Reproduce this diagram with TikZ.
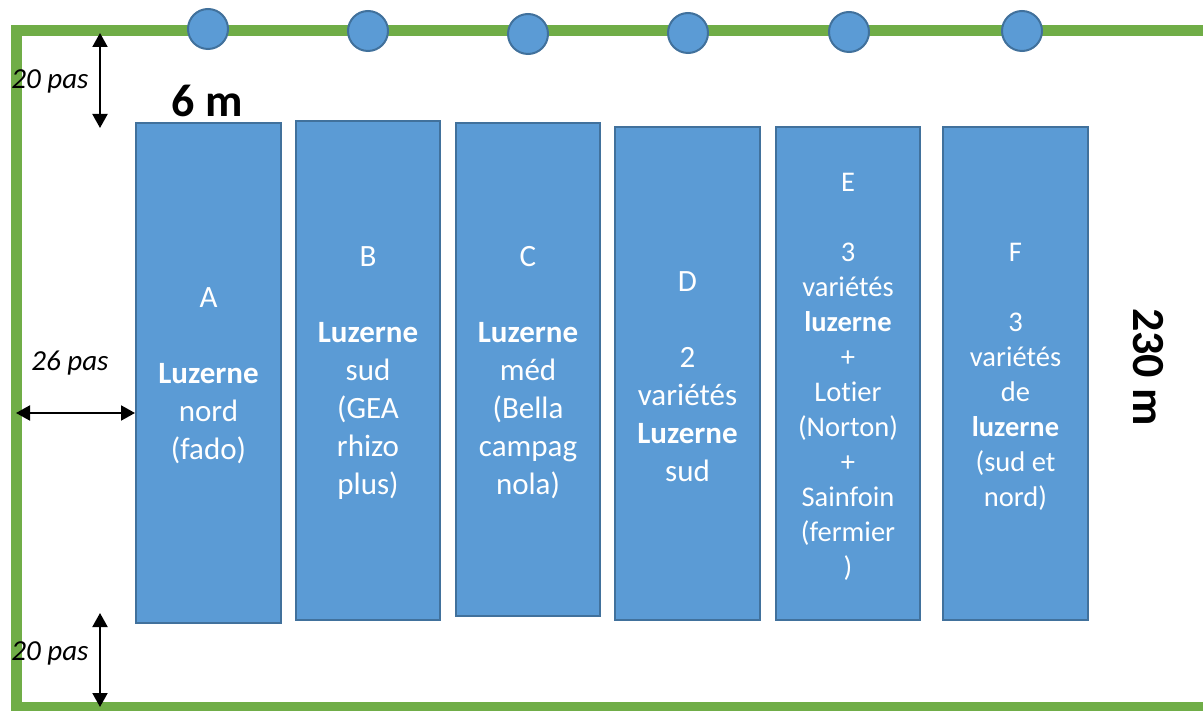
\documentclass[tikz,border=0pt]{standalone}
\usepackage{fontspec}
\setmainfont{Carlito}[RawFeature=-liga]
\usetikzlibrary{arrows.meta}
\definecolor{fieldgreen}{HTML}{70AD47}
\definecolor{plotfill}{HTML}{5B9BD5}
\definecolor{plotline}{HTML}{41719C}
\tikzset{
  plot/.style={draw=plotline, fill=plotfill, line width=2pt, minimum width=145pt, inner sep=0pt},
  plottext/.style={text=white, align=center, inner sep=0pt, yshift=-3pt},
  bigtxt/.style={font=\fontsize{31}{38}\selectfont},
  smalltxt/.style={font=\fontsize{28.5}{35}\selectfont},
  tree/.style={circle, draw=plotline, fill=plotfill, line width=2pt, minimum size=40pt, inner sep=0pt},
  dimarrow/.style={line width=2pt, {Triangle[width=15pt,length=14pt]}-{Triangle[width=15pt,length=14pt]}},
  dimlabel/.style={font=\fontsize{29}{32}\selectfont\itshape, inner sep=0pt},
  bigdim/.style={font=\fontsize{46}{50}\selectfont\bfseries, inner sep=0pt}
}
\begin{document}
\begin{tikzpicture}[x=1pt,y=-1pt]
\useasboundingbox (0,0) rectangle (1203,711);
% field border
\draw[fieldgreen, line width=11pt, line join=miter] (1210,31) -- (16,31) -- (16,707) -- (1210,707);
% trees
\foreach \n/\x/\y in {t1/208/29, t2/368/31, t3/528/34, t4/688/33, t5/849/32, t6/1022/31}
  \node[tree] (\n) at (\x,\y) {};
% plots
\node[plot, minimum height=500pt] (A) at (208.5,373) {};
\node[plot, minimum width=144pt, minimum height=499pt] (B) at (368,370.5) {};
\node[plot, minimum width=144pt, minimum height=493pt] (C) at (528,369.5) {};
\node[plot, minimum height=493pt] (D) at (687.5,373.5) {};
\node[plot, minimum width=144pt, minimum height=493pt] (E) at (848,373.5) {};
\node[plot, minimum height=493pt] (F) at (1015.5,373.5) {};
\node[plottext, bigtxt] (At) at (A.center) {A\\[38pt]\textbf{Luzerne}\\nord\\(fado)};
\node[plottext, bigtxt] (Bt) at (B.center) {B\\[38pt]\textbf{Luzerne}\\sud\\(GEA\\rhizo\\plus)};
\node[plottext, bigtxt] (Ct) at (C.center) {C\\[38pt]\textbf{Luzerne}\\méd\\(Bella\\campag\\nola)};
\node[plottext, bigtxt] (Dt) at (D.center) {D\\[38pt]2\\variétés\\\textbf{Luzerne}\\sud};
\node[plottext, smalltxt] (Et) at (E.center) {E\\[35pt]3\\variétés\\\textbf{luzerne}\\+\\Lotier\\(Norton)\\+\\Sainfoin\\(fermier\\)};
\node[plottext, smalltxt] (Ft) at (F.center) {F\\[35pt]3\\variétés\\de\\\textbf{luzerne}\\(sud et\\nord)};
% dimension coordinates
\coordinate (topA) at (100,33);
\coordinate (topB) at (100,128);
\coordinate (botA) at (100,613);
\coordinate (botB) at (100,707);
\coordinate (leftA) at (16,413);
\coordinate (leftB) at (A.west |- leftA);
\draw[dimarrow] (topA) -- (topB);
\draw[dimarrow] (botA) -- (botB);
\draw[dimarrow] (leftA) -- (leftB);
% labels
\node[dimlabel] (l1) at (50,81) {20 pas};
\node[dimlabel] (l2) at (70,363) {26 pas};
\node[dimlabel] (l3) at (50,653) {20 pas};
\node[bigdim, anchor=base] (w) at (207.5,117) {6 m};
\node[bigdim, rotate=-90] (h) at (1148,367) {230 m};
\end{tikzpicture}
\end{document}
